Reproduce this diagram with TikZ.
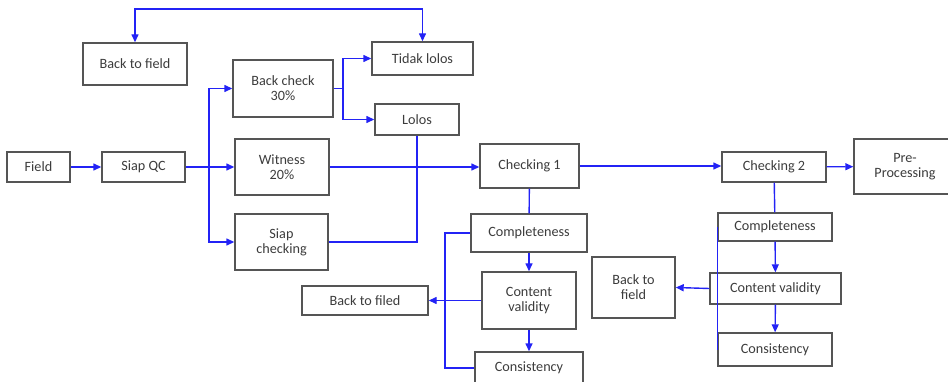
\documentclass[tikz,border=0pt]{standalone}
\usepackage{fontspec}
\setmainfont{Carlito}
\usetikzlibrary{arrows.meta}
\definecolor{flowblue}{RGB}{35,35,245}
\definecolor{boxline}{RGB}{85,85,85}
\definecolor{boxtext}{RGB}{60,60,60}
\tikzset{
    box/.style={draw=boxline, line width=1.4pt, text=boxtext, align=center, inner sep=0pt,
        font=\fontsize{14.2}{15}\selectfont},
    flow/.style={draw=flowblue, line width=1.4pt},
    flowarr/.style={flow, -{Triangle[length=8pt,width=7pt]}},
    flowboth/.style={flow, {Triangle[length=8pt,width=7pt]}-{Triangle[length=8pt,width=7pt]}}
}

\begin{document}
\begin{tikzpicture}[x=1pt, y=-1pt]
    \useasboundingbox (0,0) rectangle (948,382);
    % first stage
    \node[box, minimum width=63pt, minimum height=30pt] (field) at (38.5,167) {Field};
    \node[box, minimum width=83pt, minimum height=30pt] (siapqc) at (143.5,167) {Siap QC};
    \node[box, minimum width=100pt, minimum height=57pt] (backcheck) at (283,88.5) {Back check\\30\%};
    \node[box, minimum width=94pt, minimum height=56pt] (witness) at (282,167) {Witness\\20\%};
    \node[box, minimum width=93pt, minimum height=56pt] (siapcheck) at (281.5,242) {Siap\\checking};
    \node[box, minimum width=101pt, minimum height=33pt] (tidak) at (422.5,58.5) {Tidak lolos};
    \node[box, minimum width=84pt, minimum height=31pt] (lolos) at (417,119.5) {Lolos};
    \node[box, minimum width=104pt, minimum height=42pt] (back1) at (135,64) {Back to field};
    % checking
    \node[box, minimum width=99pt, minimum height=44pt] (check1) at (529.5,166) {Checking 1};
    \node[box, minimum width=104pt, minimum height=30pt] (check2) at (774,167) {Checking 2};
    \node[box, minimum width=102pt, minimum height=55pt] (prep) at (905,166.5) {Pre-\\Processing};
    \node[box, minimum width=116pt, minimum height=38pt] (comp1) at (529,233) {Completeness};
    \node[box, minimum width=94pt, minimum height=57pt] (cont1) at (529,300.5) {Content\\validity};
    \node[box, minimum width=108pt, minimum height=32pt] (cons1) at (529,368) {Consistency};
    \node[box, minimum width=126pt, minimum height=29pt] (filed) at (365,300.5) {Back to filed};
    \node[box, minimum width=114pt, minimum height=28pt] (comp2) at (775,227) {Completeness};
    \node[box, minimum width=131pt, minimum height=31pt] (cont2) at (775.5,288.5) {Content validity};
    \node[box, minimum width=114pt, minimum height=33pt] (cons2) at (775,349.5) {Consistency};
    \node[box, minimum width=83pt, minimum height=61pt] (back2) at (633.5,287.5) {Back to\\field};
    % helper points
    \coordinate (split) at (209,167);
    \coordinate (bsplit) at (343,88.5);
    \coordinate (top) at (135,9);
    \coordinate (lside) at (445,300);
    % connectors
    \draw[flowarr] (field) -- (siapqc);
    \draw[flowarr] (siapqc) -- (witness);
    \draw[flowarr] (split) |- (backcheck.west);
    \draw[flowarr] (split) |- (siapcheck.west);
    \draw[flow] (backcheck.east) -- (bsplit);
    \draw[flowarr] (bsplit) |- (tidak.west);
    \draw[flowarr] (bsplit) |- (lolos.west);
    \draw[flowboth] (back1.north) -- (top) -| (tidak.north);
    \draw[flow] (lolos.south) |- (siapcheck.east);
    \draw[flowarr] (witness.east) -- (witness.east -| check1.west);
    \draw[flowarr] (check1.east) -- (check1.east -| check2.west);
    \draw[flowarr] (check2) -- (prep);
    \draw[flow] (check1) -- (comp1);
    \draw[flowarr] (comp1) -- (cont1);
    \draw[flowarr] (cont1) -- (cons1);
    \draw[flow] (comp1.west) -| (lside) |- (cons1.west);
    \draw[flowarr] (cont1.west) -- (filed.east);
    \draw[flow] (check2) -- (comp2);
    \draw[flowarr] (comp2) -- (cont2);
    \draw[flowarr] (cont2) -- (cons2);
    \draw[flow] (comp2.west) -- (cons2.west);
    \draw[flowarr] (cont2.west) -- (back2.east);
\end{tikzpicture}
\end{document}
